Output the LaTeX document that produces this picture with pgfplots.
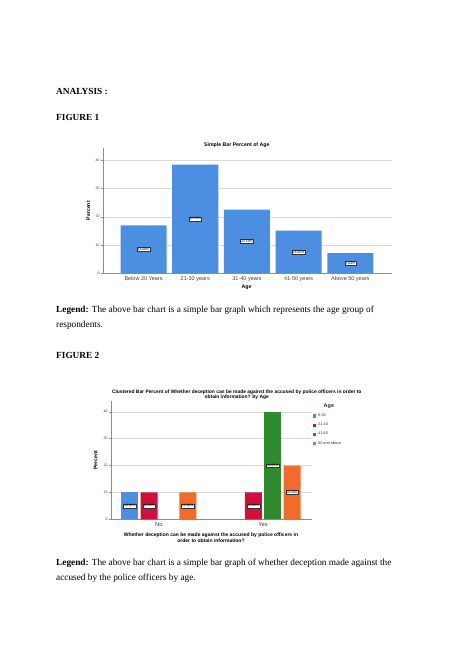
\documentclass[border=0pt]{standalone}
\usepackage{fontspec}
\setmainfont{Liberation Serif}
\newfontfamily\arial{Liberation Sans}
\usepackage{pgfplots}
\pgfplotsset{compat=1.18}
\usepackage{pgfplotstable}
\definecolor{spblue}{HTML}{4C8FE0}
\definecolor{spred}{HTML}{D0103A}
\definecolor{spgreen}{HTML}{2E8B2E}
\definecolor{sporange}{HTML}{F26B2B}
\definecolor{gridgray}{HTML}{DADADA}
\definecolor{axgray}{HTML}{8C8C8C}

\pgfplotstableread{
x val half lab
0 16.90 8.45 16.90
1 38.50 19.25 38.50
2 22.54 11.27 22.54
3 15.02 7.51 15.02
4 7.04 3.52 7.04
}\agedata

\pgfplotstableread{
x half lab
-0.278 5 10.00
-0.0926 5 10.00
0.278 5 10.00
0.9074 5 10.00
1.0926 20 40.00
1.278 10 20.00
}\decolabels

\pgfplotsset{
  sqlegend/.style={legend image code/.code={\fill[##1] (0pt,-1.6pt) rectangle (3.3pt,1.7pt);}},
  spssaxis/.style={
    scale only axis,
    axis x line*=bottom, axis y line*=left,
    axis line style={axgray, line width=0.4pt},
    ymin=0,
    ytick={0,10,20,30,40},
    ymajorgrids, grid style={gridgray, line width=0.4pt},
    major x tick style={draw=none},
    ytick style={axgray, line width=0.3pt}, tick align=outside, major tick length=2pt,
    /pgf/number format/assume math mode=true,
    yticklabel style={font=\arial\fontsize{3.5}{4}\selectfont, text=black!80, inner sep=1pt},
  },
  barlabels/.style={
    draw=none,
    nodes near coords={\pgfplotspointmeta\%},
    point meta=explicit symbolic,
    every node near coord/.append style={anchor=center, draw=black!80, fill=white,
      font=\arial\fontsize{3.3}{3.6}\selectfont, inner sep=0.7pt, line width=0.3pt},
  },
}

\begin{document}
\begin{tikzpicture}
\path[use as bounding box, fill=white] (0pt,0pt) rectangle (474pt,-670pt);
\tikzset{body/.style={anchor=base west, inner sep=0pt, font=\fontsize{9.3}{11.5}\selectfont}}

\node[body, font=\fontsize{9.3}{11.5}\selectfont\bfseries] at (56pt,-94pt) {ANALYSIS :};
\node[body, font=\fontsize{9.3}{11.5}\selectfont\bfseries] at (56pt,-120pt) {FIGURE 1};
\node[body] at (56pt,-312.5pt) {\textbf{Legend:} The above bar chart is a simple bar graph which represents the age group of};
\node[body] at (56pt,-327.5pt) {respondents.};
\node[body, font=\fontsize{9.3}{11.5}\selectfont\bfseries] at (56pt,-358pt) {FIGURE 2};
\node[body] at (56pt,-565pt) {\textbf{Legend:} The above bar chart is a simple bar graph of whether deception made against the};
\node[body] at (56pt,-580.5pt) {accused by the police officers by age.};

% Figure 1
\begin{axis}[
  spssaxis,
  at={(102.7pt,-273pt)}, anchor=south west,
  width=289pt, height=124.7pt,
  xmin=-0.79, xmax=4.8, ymax=44.3,
  xtick={0,1,2,3,4},
  xticklabels={Below 20 Years,21-30 years,31-40 years,41-50 years,Above 50 years},
  xticklabel style={font=\arial\fontsize{5.5}{6}\selectfont, text=black!75, inner sep=1.5pt},
  title={Simple Bar Percent of Age},
  every axis title/.style={at={(axis description cs:0.464,1)}, anchor=south, yshift=-1pt, font=\arial\bfseries\fontsize{5.2}{6}\selectfont, inner sep=1.5pt},
  xlabel={Age}, ylabel={Percent},
  every axis x label/.style={at={(axis description cs:0.498,-0.118)}, anchor=center, font=\arial\bfseries\fontsize{5.2}{6}\selectfont},
  every axis y label/.style={at={(axis description cs:-0.05,0.5)}, anchor=center, rotate=90, font=\arial\bfseries\fontsize{5.2}{6}\selectfont},
]
\addplot[ybar, bar width=0.89, bar shift=0, fill=spblue, draw=none] table[x=x, y=val] {\agedata};
\addplot[barlabels] table[x=x, y=half, meta=lab] {\agedata};
\end{axis}

% Figure 2
\begin{axis}[
  spssaxis,
  at={(110.7pt,-519.3pt)}, anchor=south west,
  width=201pt, height=118.6pt,
  xmin=-0.462, xmax=1.467, ymax=44.1,
  xtick={0,1}, xticklabels={No,Yes},
  xticklabel style={font=\arial\fontsize{5.8}{6}\selectfont, text=black!75, inner sep=1.5pt},
  title={Clustered Bar Percent of Whether deception can be made against the accused by police officers in order to\\obtain information? by Age},
  every axis title/.style={at={(axis description cs:0.627,1)}, anchor=south, yshift=-1pt, align=center, font=\arial\bfseries\fontsize{4.9}{5.6}\selectfont, inner sep=1.5pt},
  xlabel={Whether deception can be made against the accused by police officers in\\order to obtain information?},
  ylabel={Percent},
  every axis x label/.style={at={(axis description cs:0.499,-0.158)}, anchor=center, align=center, font=\arial\bfseries\fontsize{5}{5.8}\selectfont},
  every axis y label/.style={at={(axis description cs:-0.0746,0.5)}, anchor=center, rotate=90, font=\arial\bfseries\fontsize{5.2}{6}\selectfont},
  legend style={at={(axis description cs:1,1)}, anchor=north west, xshift=1pt, yshift=-1pt,
    draw=none, fill=none, inner sep=0pt, font=\arial\fontsize{3.8}{4.2}\selectfont, row sep=0.9pt,
    text=black!80},
  legend cell align=left,
]
\addlegendimage{empty legend}
\addlegendentry{\hspace{5.5pt}{\fontsize{5.5}{6}\selectfont\bfseries Age}}
\addplot[ybar, bar width=0.163, bar shift=-0.278, fill=spblue, draw=none, sqlegend] coordinates {(0,10)};
\addlegendentry{0-20}
\addplot[ybar, bar width=0.163, bar shift=-0.0926, fill=spred, draw=none, sqlegend] coordinates {(0,10) (1,10)};
\addlegendentry{21-40}
\addplot[ybar, bar width=0.163, bar shift=0.0926, fill=spgreen, draw=none, sqlegend] coordinates {(1,40)};
\addlegendentry{41-60}
\addplot[ybar, bar width=0.163, bar shift=0.278, fill=sporange, draw=none, sqlegend] coordinates {(0,10) (1,20)};
\addlegendentry{60 and above}
\addplot[barlabels] table[x=x, y=half, meta=lab] {\decolabels};
\end{axis}
\end{tikzpicture}
\end{document}
